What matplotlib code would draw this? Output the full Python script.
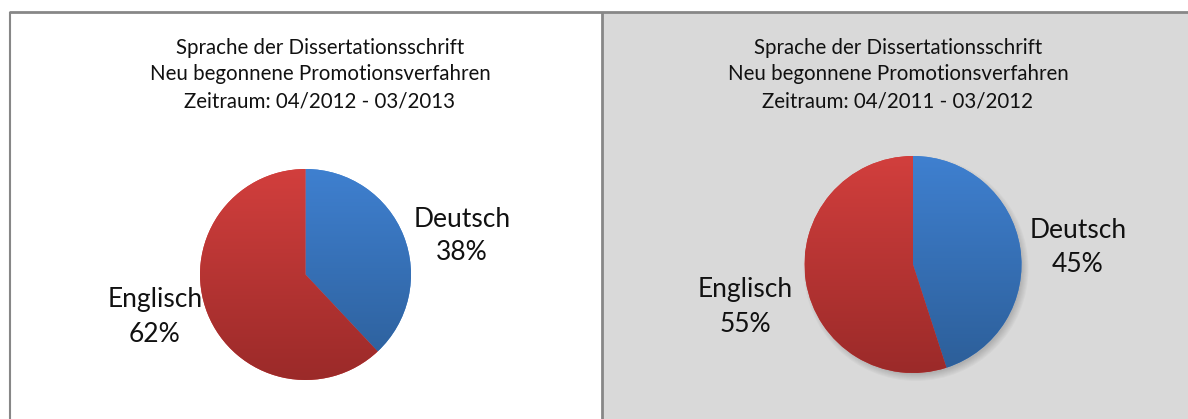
import numpy as np
import matplotlib
matplotlib.use('Agg')
from matplotlib import pyplot as plt
from matplotlib.patches import Rectangle, Circle
from matplotlib.colors import LinearSegmentedColormap

plt.rcParams['font.family'] = ['Lato', 'DejaVu Sans']

# Daten
labels = ['Deutsch', 'Englisch']
values_2013 = [38, 62]
values_2012 = [45, 55]
titles = ['Sprache der Dissertationsschrift\nNeu begonnene Promotionsverfahren\nZeitraum: 04/2012 - 03/2013',
          'Sprache der Dissertationsschrift\nNeu begonnene Promotionsverfahren\nZeitraum: 04/2011 - 03/2012']

W, H = 1188, 419
blue = LinearSegmentedColormap.from_list('b', ['#2c5e98', '#3f80d0'])
red = LinearSegmentedColormap.from_list('r', ['#9b2a29', '#d23f3d'])

fig = plt.figure(figsize=(W / 100, H / 100), dpi=100)
ax = fig.add_axes([0, 0, 1, 1])
ax.set_xlim(0, W)
ax.set_ylim(0, H)
ax.set_aspect('equal')
ax.axis('off')


def Y(py):
    return H - py


# Hintergrund
ax.add_patch(Rectangle((9, -5), 593, Y(12) + 5, facecolor='white', edgecolor='none', zorder=0))
ax.add_patch(Rectangle((602, -5), W - 602 + 5, Y(12) + 5, facecolor='#d9d9d9', edgecolor='none', zorder=0))
ax.plot([9, W], [Y(12.5), Y(12.5)], color='#878787', lw=2.0, solid_capstyle='butt', zorder=1)
ax.plot([9.5, 9.5], [-5, Y(12.5)], color='#878787', lw=1.5, solid_capstyle='butt', zorder=1)
ax.plot([601.5, 601.5], [-5, Y(12.5)], color='#878787', lw=2.0, solid_capstyle='butt', zorder=1)


def draw_pie(values, cx, cy, r, title, tx, lab_pos, shadow):
    cy = Y(cy)
    if shadow:
        for k in range(8):
            ax.add_patch(Circle((cx + 3, cy - 4), r + 4 - k, facecolor='black', alpha=0.025,
                                edgecolor='none', zorder=1))
    wedges, _ = ax.pie(values, center=(cx, cy), radius=r, startangle=90, counterclock=False,
                       colors=['#3f80d0', '#d23f3d'], wedgeprops=dict(edgecolor='none'), frame=True)
    grad = np.linspace(0, 1, 256).reshape(-1, 1)
    for w, cmap in zip(wedges, [blue, red]):
        im = ax.imshow(grad, cmap=cmap, origin='lower', aspect='auto',
                       extent=(cx - r, cx + r, cy - r, cy + r), zorder=2)
        im.set_clip_path(w)
    ax.text(tx, Y(74.5), title, ha='center', va='center', fontsize=14.8, linespacing=1.42, color='#111111')
    for lab, v, (lx, ly) in zip(labels, values, lab_pos):
        ax.text(lx, Y(ly), f'{lab}\n{v}%', ha='center', va='center', fontsize=19,
                linespacing=1.45, color='#111111')


draw_pie(values_2013, 305.5, 274.5, 105.5, titles[0], 320, [(462, 236), (155, 317)], False)
draw_pie(values_2012, 913, 264.5, 108.5, titles[1], 898, [(1078, 247), (745, 307)], True)

ax.set_xlim(0, W)
ax.set_ylim(0, H)
ax.axis('off')
fig.savefig('out.png', dpi=100)
